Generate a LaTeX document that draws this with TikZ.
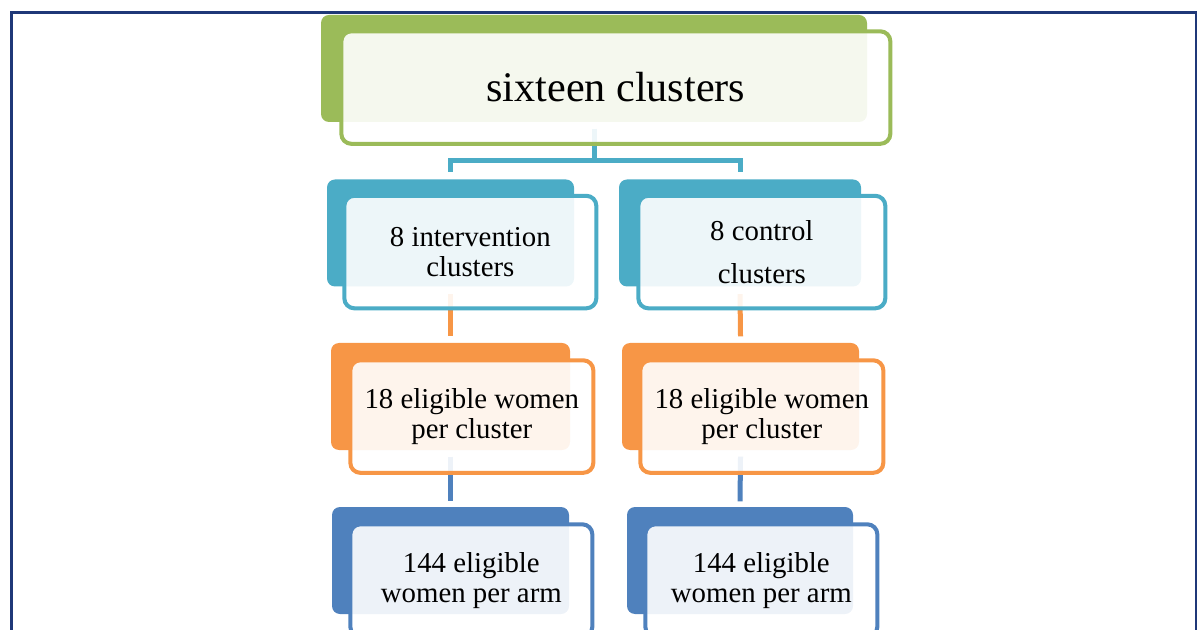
\documentclass[tikz,border=0pt]{standalone}
\usepackage{fontspec}
\setmainfont{Liberation Serif}
\usetikzlibrary{positioning,calc,backgrounds}
\definecolor{framenavy}{RGB}{31,56,120}
\definecolor{leafgreen}{RGB}{155,187,89}
\definecolor{aqua}{RGB}{75,172,198}
\definecolor{tangerine}{RGB}{247,150,70}
\definecolor{steel}{RGB}{79,129,189}

\begin{document}
\begin{tikzpicture}[every node/.style={inner sep=0pt},
  backbox/.style={fill=#1, rounded corners=0.08cm, minimum height=1.07cm},
  frontbox/.style={draw=#1, line width=1.15pt, fill=white, fill opacity=0.9,
    text opacity=1, rounded corners=0.1cm, minimum height=1.125cm, align=center,
    font=\fontsize{8.2}{8.3}\selectfont},
  link/.style={draw=#1, line width=0.05cm}]

  % frame
  \useasboundingbox (0,0) rectangle (11.99,-6.30);
  \clip (0,0) rectangle (11.99,-6.30);
  \draw[framenavy, line width=0.6pt] (0.115,-6.40) -- (0.115,-0.125) -- (11.96,-0.125) -- (11.96,-6.40);

  % sixteen clusters
  \node[backbox=leafgreen, minimum width=5.46cm] (topb) at (5.94,-0.685) {};
  \node[frontbox=leafgreen, minimum width=5.49cm, font=\fontsize{12}{14}\selectfont,
    below right=0.15cm and 0.19cm of topb.north west] (top) {sixteen clusters};

  % intervention arm
  \node[backbox=aqua, minimum width=2.47cm] (ivnb) at (4.505,-2.33) {};
  \node[frontbox=aqua, minimum width=2.52cm, below right=0.15cm and 0.16cm of ivnb.north west] (ivn) {8 intervention\\clusters};
  \node[backbox=tangerine, minimum width=2.39cm] (ivnwb) at (4.505,-3.965) {};
  \node[frontbox=tangerine, minimum width=2.43cm, below right=0.16cm and 0.18cm of ivnwb.north west] (ivnw) {18 eligible women\\per cluster};
  \node[backbox=steel, minimum width=2.37cm] (ivnab) at (4.505,-5.605) {};
  \node[frontbox=steel, minimum width=2.42cm, below right=0.16cm and 0.17cm of ivnab.north west] (ivna) {144 eligible\\women per arm};

  % control arm
  \node[backbox=aqua, minimum width=2.42cm] (ctlb) at (7.40,-2.33) {};
  \node[frontbox=aqua, minimum width=2.47cm, below right=0.15cm and 0.18cm of ctlb.north west] (ctl) {8 control\\[0.14cm]clusters};
  \node[backbox=tangerine, minimum width=2.37cm] (ctlwb) at (7.405,-3.965) {};
  \node[frontbox=tangerine, minimum width=2.43cm, below right=0.16cm and 0.17cm of ctlwb.north west] (ctlw) {18 eligible women\\per cluster};
  \node[backbox=steel, minimum width=2.26cm] (ctlab) at (7.40,-5.605) {};
  \node[frontbox=steel, minimum width=2.32cm, below right=0.16cm and 0.17cm of ctlab.north west] (ctla) {144 eligible\\women per arm};

  % connectors, behind the boxes
  \begin{scope}[on background layer]
    \coordinate (fork) at ($(topb.south)+(0,-0.38)$);
    \draw[link=aqua] ($(topb.south)+(0,-0.06)$) -- (fork) -| ($(ivnb.north)+(0,0.07)$);
    \draw[link=aqua] (fork) -| ($(ctlb.north)+(0,0.07)$);
    \draw[link=tangerine] ($(ivnb.south)+(0,-0.07)$) -- ($(ivnwb.north)+(0,0.06)$);
    \draw[link=tangerine] ($(ctlb.south)+(0,-0.07)$) -- ($(ctlwb.north)+(0,0.06)$);
    \draw[link=steel] ($(ivnwb.south)+(0,-0.06)$) -- ($(ivnab.north)+(0,0.05)$);
    \draw[link=steel] ($(ctlwb.south)+(0,-0.06)$) -- ($(ctlab.north)+(0,0.05)$);
  \end{scope}
\end{tikzpicture}
\end{document}
